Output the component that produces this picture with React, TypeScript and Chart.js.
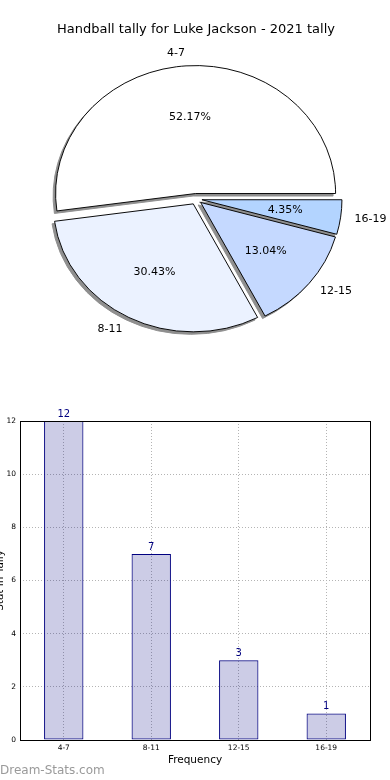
import React, { useEffect, useRef } from 'react';
import { Chart, ArcElement, registerables } from 'chart.js';

Chart.register(...registerables);

// ---- data ----
const categories = ['4-7', '8-11', '12-15', '16-19'];
const tallies = [12, 7, 3, 1];
const pieColors = ['#ffffff', '#ebf2ff', '#c5d9ff', '#b3d4ff'];
const yTickValues = [0, 2, 4, 6, 8, 10, 12];
const chartTitle = 'Handball tally for Luke Jackson - 2021 tally';
const xTitle = 'Frequency';
const yTitle = 'Stat in Tally';
const watermark = 'Dream-Stats.com';

// ---- style ----
const FONT = "'DejaVu Sans', 'Noto Sans', sans-serif";
const SY = 0.914; // vertical squash of the pie (non-equal aspect)
const EXPLODE = 6; // px
const PIE_R = 140;
const SHADOW_DX = -2.5;
const SHADOW_DY = 2.5;
const SHADOW_COLOR = '#8f8f8f';

// pie drawn counter-clockwise from 3 o'clock -> reverse order for clockwise drawing
const pieOrder = categories.map((_, i) => categories.length - 1 - i);
const pieData = pieOrder.map((i) => tallies[i]);
const pieBg = pieOrder.map((i) => pieColors[i]);
const total = tallies.reduce((a, b) => a + b, 0);

const origArcDraw = ArcElement.prototype.draw;

function explodedDraw(this: any, c: CanvasRenderingContext2D) {
  const mid = (this.startAngle + this.endAngle) / 2;
  c.save();
  c.translate(Math.cos(mid) * EXPLODE, Math.sin(mid) * EXPLODE);
  origArcDraw.call(this, c);
  c.restore();
}

const pieStylePlugin = {
  id: 'pieStyle',
  beforeDatasetsDraw(chart: any) {
    const ctx = chart.ctx;
    const meta = chart.getDatasetMeta(0);
    const first = meta.data[0];
    if (!first) return;
    meta.data.forEach((el: any) => {
      if (!el.__exploded) {
        el.__exploded = true;
        el.draw = explodedDraw;
      }
    });
    ctx.save();
    ctx.translate(first.x, first.y);
    ctx.scale(1, SY);
    ctx.translate(-first.x, -first.y);
    // shadow pass
    ctx.save();
    ctx.translate(SHADOW_DX, SHADOW_DY / SY);
    meta.data.forEach((el: any) => {
      const o = el.options;
      const bg = o.backgroundColor;
      const bc = o.borderColor;
      o.backgroundColor = SHADOW_COLOR;
      o.borderColor = SHADOW_COLOR;
      explodedDraw.call(el, ctx);
      o.backgroundColor = bg;
      o.borderColor = bc;
    });
    ctx.restore();
  },
  afterDatasetsDraw(chart: any) {
    const ctx = chart.ctx;
    const meta = chart.getDatasetMeta(0);
    if (!meta.data[0]) return;
    ctx.restore();
    ctx.save();
    ctx.font = `11px ${FONT}`;
    ctx.fillStyle = '#000';
    ctx.textBaseline = 'middle';
    meta.data.forEach((el: any, k: number) => {
      const idx = pieOrder[k];
      const mid = (el.startAngle + el.endAngle) / 2;
      const c = Math.cos(mid);
      const s = Math.sin(mid);
      const R = el.outerRadius;
      const d1 = EXPLODE + 1.1 * R;
      const lx = el.x + d1 * c;
      const ly = el.y + d1 * s * SY;
      ctx.textAlign = c > 0 ? 'left' : 'right';
      ctx.fillText(categories[idx], lx, ly);
      const d2 = EXPLODE + 0.6 * R;
      const px = el.x + d2 * c;
      const py = el.y + d2 * s * SY;
      ctx.textAlign = 'center';
      ctx.fillText(((tallies[idx] / total) * 100).toFixed(2) + '%', px, py);
    });
    ctx.restore();
  },
};

const barPlugin = {
  id: 'barExtras',
  afterDatasetsDraw(chart: any) {
    const ctx = chart.ctx;
    const meta = chart.getDatasetMeta(0);
    ctx.save();
    ctx.font = `10px ${FONT}`;
    ctx.fillStyle = '#000080';
    ctx.textAlign = 'center';
    ctx.textBaseline = 'bottom';
    meta.data.forEach((el: any, i: number) => {
      ctx.fillText(String(tallies[i]), el.x, el.y - 2);
    });
    ctx.restore();
  },
  afterDraw(chart: any) {
    const ctx = chart.ctx;
    const a = chart.chartArea;
    ctx.save();
    ctx.strokeStyle = '#000';
    ctx.lineWidth = 1;
    ctx.strokeRect(Math.round(a.left) + 0.5, Math.round(a.top) + 0.5, Math.round(a.right - a.left), Math.round(a.bottom - a.top));
    ctx.font = `10.5px ${FONT}`;
    ctx.fillStyle = '#000';
    ctx.textAlign = 'center';
    ctx.textBaseline = 'alphabetic';
    ctx.translate(3, (a.top + a.bottom) / 2);
    ctx.rotate(-Math.PI / 2);
    ctx.fillText(yTitle, 0, 0);
    ctx.restore();
  },
};

export default function App() {
  const pieRef = useRef<HTMLCanvasElement | null>(null);
  const barRef = useRef<HTMLCanvasElement | null>(null);

  useEffect(() => {
    Chart.defaults.font.family = FONT;
    const pie = new Chart(pieRef.current as HTMLCanvasElement, {
      type: 'pie',
      data: {
        labels: pieOrder.map((i) => categories[i]),
        datasets: [
          {
            data: pieData,
            backgroundColor: pieBg,
            borderColor: '#000',
            borderWidth: 1,
            offset: 0,
            hoverOffset: 0,
            clip: false,
          } as any,
        ],
      },
      options: {
        animation: false,
        responsive: false,
        maintainAspectRatio: false,
        rotation: 90,
        radius: PIE_R,
        events: [],
        layout: { padding: { left: 2, right: 0, top: 0, bottom: 19.6 } },
        plugins: {
          legend: { display: false },
          tooltip: { enabled: false },
          title: {
            display: true,
            text: chartTitle,
            color: '#000',
            font: { family: FONT, size: 13, weight: 'normal' },
            padding: { top: 22, bottom: 0 },
          },
        },
      } as any,
      plugins: [pieStylePlugin],
    });

    const gridColor = '#b4b4b4';
    const bar = new Chart(barRef.current as HTMLCanvasElement, {
      type: 'bar',
      data: {
        datasets: [
          {
            data: categories.map((_, i) => ({ x: i, y: tallies[i] })),
            backgroundColor: 'rgba(0,0,128,0.2)',
            borderColor: '#000080',
            borderWidth: 1,
            borderSkipped: false,
            barPercentage: 0.45,
            categoryPercentage: 1,
          } as any,
        ],
      },
      options: {
        animation: false,
        responsive: false,
        maintainAspectRatio: false,
        events: [],
        layout: { padding: { left: 0, right: 20, top: 41, bottom: 0 } },
        plugins: {
          legend: { display: false },
          tooltip: { enabled: false },
        },
        scales: {
          x: {
            type: 'linear',
            offset: false,
            min: -0.5,
            max: 3.5,
            afterBuildTicks: (s: any) => {
              s.ticks = categories.map((_, i) => ({ value: i }));
            },
            afterFit: (s: any) => {
              s.height = 40;
            },
            grid: { color: gridColor, lineWidth: 1, drawTicks: false, offset: false },
            border: { display: false, dash: [1, 2] },
            ticks: {
              padding: 4,
              color: '#000',
              font: { family: FONT, size: 7.5 },
              callback: (v: any) => categories[v] ?? '',
            },
            title: {
              display: true,
              text: xTitle,
              color: '#000',
              font: { family: FONT, size: 10.5 },
              padding: { top: 0, bottom: 13.7 },
            },
          },
          y: {
            min: 0,
            max: 12,
            afterBuildTicks: (s: any) => {
              s.ticks = yTickValues.map((v) => ({ value: v }));
            },
            afterFit: (s: any) => {
              s.width = 20;
            },
            grid: { color: gridColor, lineWidth: 1, drawTicks: false },
            border: { display: false, dash: [1, 2] },
            ticks: {
              padding: 4,
              color: '#000',
              font: { family: FONT, size: 7.5 },
            },
          },
        },
      } as any,
      plugins: [barPlugin],
    });

    return () => {
      pie.destroy();
      bar.destroy();
    };
  }, []);

  return (
    <div style={{ position: 'absolute', left: 0, top: 0, width: 390, height: 780, background: '#fff', overflow: 'hidden' }}>
      <canvas ref={pieRef} width={390} height={380} style={{ position: 'absolute', left: 0, top: 0, display: 'block' }} />
      <canvas ref={barRef} width={390} height={400} style={{ position: 'absolute', left: 0, top: 380, display: 'block' }} />
      <div
        style={{
          position: 'absolute',
          left: 0,
          top: 763,
          fontFamily: FONT,
          fontSize: 12,
          lineHeight: '14px',
          color: '#9a9a9a',
          whiteSpace: 'nowrap',
        }}
      >
        {watermark}
      </div>
    </div>
  );
}
